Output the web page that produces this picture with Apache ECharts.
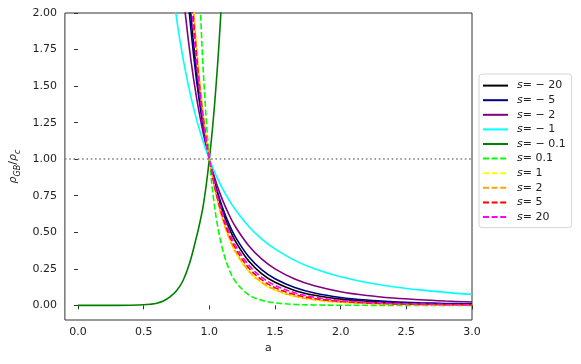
<!DOCTYPE html>
<html><head><meta charset="utf-8">
<script src="https://cdn.jsdelivr.net/npm/echarts@6/dist/echarts.min.js"></script>
<style>html,body{margin:0;padding:0;background:#fff}#c{width:581px;height:364px}</style>
</head><body><div id="c"></div>
<script>
// ---- data ----
const xTicks = [0, 0.5, 1, 1.5, 2, 2.5, 3];
const yTicks = [0, 0.25, 0.5, 0.75, 1, 1.25, 1.5, 1.75, 2];
const seriesNames = ['s=-20','s=-5','s=-2','s=-1','s=-0.1','s=0.1','s=1','s=2','s=5','s=20'];
const legendValues = ['\u2212 20','\u2212 5','\u2212 2','\u2212 1','\u2212 0.1','0.1','1','2','5','20'];

const aGrid = [0.70, 0.74, 0.78, 0.82, 0.86, 0.90, 0.94, 0.97, 1.00, 1.03, 1.06, 1.10, 1.15, 1.20, 1.30, 1.40, 1.50, 1.65, 1.80, 2.00, 2.20, 2.40, 2.60, 2.80, 3.00];
const rhoSm20 = [5.07, 3.94, 3.10, 2.47, 1.986, 1.615, 1.325, 1.149, 1, 0.874, 0.767, 0.648, 0.529, 0.436, 0.303, 0.216, 0.158, 0.102, 0.069, 0.0427, 0.0277, 0.0186, 0.0129, 0.0092, 0.0067];
const rhoSm5  = [4.47, 3.54, 2.84, 2.30, 1.884, 1.557, 1.297, 1.137, 1, 0.883, 0.783, 0.670, 0.556, 0.465, 0.332, 0.243, 0.182, 0.122, 0.0847, 0.0544, 0.0364, 0.0253, 0.0181, 0.0133, 0.0099];
const rhoSm2  = [3.39, 2.80, 2.34, 1.97, 1.675, 1.434, 1.236, 1.11, 1, 0.904, 0.819, 0.722, 0.62, 0.536, 0.408, 0.316, 0.25, 0.18, 0.134, 0.0935, 0.0674, 0.050, 0.038, 0.0296, 0.0234];
const rhoSm1  = [2.31, 2.03, 1.79, 1.594, 1.425, 1.281, 1.157, 1.074, 1, 0.933, 0.872, 0.799, 0.72, 0.652, 0.540, 0.453, 0.386, 0.308, 0.251, 0.196, 0.157, 0.128, 0.106, 0.089, 0.0756];
const rhoSp01 = [null, null, null, 7.28, 4.52, 2.87, 1.857, 1.357, 1, 0.744, 0.558, 0.386, 0.247, 0.162, 0.0725, 0.0346, 0.0173, 0.0067, 0.0028, 0.001, 0.0004, 0.0002, 0.0001, 0, 0];
const rhoSp1  = [7.37, 5.40, 4.02, 3.04, 2.327, 1.804, 1.414, 1.186, 1, 0.847, 0.721, 0.586, 0.457, 0.360, 0.230, 0.152, 0.103, 0.0606, 0.0372, 0.0206, 0.0121, 0.0074, 0.0047, 0.0031, 0.0021];
const rhoSp2  = [7.11, 5.24, 3.92, 2.98, 2.29, 1.786, 1.405, 1.183, 1, 0.85, 0.726, 0.592, 0.464, 0.367, 0.236, 0.157, 0.1075, 0.0637, 0.0394, 0.0221, 0.0131, 0.0081, 0.0052, 0.0035, 0.0024];
const rhoSp5  = [6.39, 4.79, 3.64, 2.81, 2.19, 1.73, 1.38, 1.172, 1, 0.857, 0.739, 0.609, 0.483, 0.388, 0.256, 0.174, 0.121, 0.074, 0.047, 0.0272, 0.0166, 0.0105, 0.0070, 0.0047, 0.0033];
const rhoSp20 = [5.74, 4.37, 3.38, 2.645, 2.094, 1.676, 1.354, 1.161, 1, 0.865, 0.751, 0.627, 0.504, 0.409, 0.276, 0.192, 0.137, 0.086, 0.056, 0.0335, 0.021, 0.0137, 0.0093, 0.0064, 0.0046];

const aGreen   = [0, 0.1, 0.2, 0.3, 0.4, 0.5, 0.55, 0.6, 0.65, 0.7, 0.75, 0.8, 0.85, 0.9, 0.925, 0.95, 0.975, 1.0, 1.025, 1.05, 1.075, 1.1];
const rhoSm01  = [0, 0, 0, 0, 0.001, 0.004, 0.008, 0.015, 0.03, 0.058, 0.10, 0.17, 0.29, 0.46, 0.555, 0.665, 0.815, 1.0, 1.22, 1.49, 1.81, 2.2];

const refLevel = 1;

// ---- styles ----
const colors = ['#000000','#000080','#800080','#00ffff','#008000','#00ff00','#ffff00','#ffa500','#ff0000','#ff00ff'];
const dashed = [false,false,false,false,false,true,true,true,true,true];

const xsList = [aGrid, aGrid, aGrid, aGrid, aGreen, aGrid, aGrid, aGrid, aGrid, aGrid];
const ysList = [rhoSm20, rhoSm5, rhoSm2, rhoSm1, rhoSm01, rhoSp01, rhoSp1, rhoSp2, rhoSp5, rhoSp20];

const series = seriesNames.map((nm, k) => {
  const pts = [];
  xsList[k].forEach((a, i) => { if (ysList[k][i] !== null) pts.push([a, ysList[k][i]]); });
  const s = {
    name: nm, type: 'line', data: pts, showSymbol: false, symbol: 'none',
    smooth: 0.35, clip: true,
    color: colors[k],
    itemStyle: { color: colors[k] },
    lineStyle: { color: colors[k], width: 1.6, type: dashed[k] ? [6, 2.6] : 'solid' },
    emphasis: { disabled: true }, animation: false
  };
  if (k === 0) {
    s.markLine = {
      silent: true, symbol: 'none', label: { show: false },
      lineStyle: { color: '#808080', type: [1.6, 2.7], width: 1.6 },
      data: [{ yAxis: refLevel }], animation: false
    };
  }
  return s;
});

const legendMap = {};
seriesNames.forEach((n, i) => legendMap[n] = legendValues[i]);

const chart = echarts.init(document.getElementById('c'), null, { renderer: 'canvas' });
const font = 'DejaVu Sans';
chart.setOption({
  animation: false,
  backgroundColor: '#ffffff',
  grid: { left: 61, top: 13, width: 411, height: 307, show: true, borderColor: '#333', borderWidth: 1, containLabel: false },
  xAxis: {
    type: 'value', min: -0.1, max: 3,
    name: 'a', nameLocation: 'middle', nameGap: 23,
    nameTextStyle: { fontFamily: font, fontSize: 11, color: '#222' },
    axisLine: { show: false },
    axisTick: { show: true, length: 4, lineStyle: { color: '#333', width: 1 }, customValues: xTicks },
    axisLabel: { customValues: xTicks, formatter: v => v.toFixed(1), fontFamily: font, fontSize: 11, color: '#222', margin: 7 },
    splitLine: { show: false }
  },
  yAxis: {
    type: 'value', min: -0.1, max: 2,
    name: '{i|\u03c1}{s|GB}{n|/}{i|\u03c1}{s|c}', nameLocation: 'middle', nameGap: 36, nameRotate: 90,
    nameTextStyle: {
      color: '#222',
      rich: {
        i: { fontFamily: font, fontStyle: 'italic', fontSize: 11, color: '#222', lineHeight: 16 },
        n: { fontFamily: font, fontSize: 11, color: '#222', lineHeight: 16 },
        s: { fontFamily: font, fontStyle: 'italic', fontSize: 8, color: '#222', lineHeight: 8, verticalAlign: 'bottom' }
      }
    },
    axisLine: { show: false },
    axisTick: { show: true, length: 4, lineStyle: { color: '#333', width: 1 }, customValues: yTicks },
    axisLabel: { customValues: yTicks, formatter: v => v.toFixed(2), fontFamily: font, fontSize: 11, color: '#222', margin: 8 },
    splitLine: { show: false }
  },
  legend: {
    orient: 'vertical', left: 479, top: 74,
    itemWidth: 25, itemHeight: 14, itemGap: 3.4,
    padding: [6, 6, 5, 3],
    borderColor: '#d5d5d5', borderWidth: 1, borderRadius: 3, backgroundColor: '#ffffff',
    data: seriesNames,
    itemStyle: { opacity: 0 },
    formatter: n => '{i|s}{n|= ' + legendMap[n] + '}',
    textStyle: {
      fontFamily: font, fontSize: 11, color: '#222',
      rich: {
        i: { fontFamily: font, fontStyle: 'italic', fontSize: 11, color: '#222', padding: [0, 0, 0, 4] },
        n: { fontFamily: font, fontSize: 11, color: '#222' }
      }
    }
  },
  series: series
});
</script></body></html>
